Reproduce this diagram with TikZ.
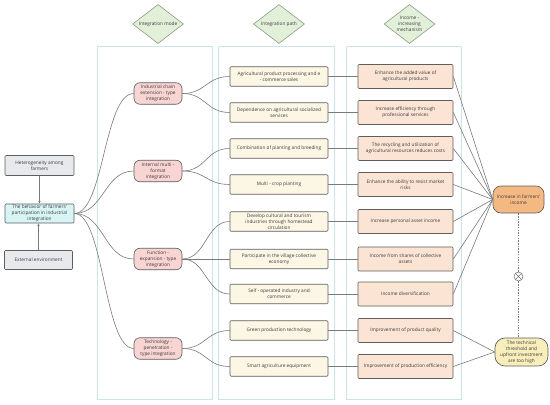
\documentclass[tikz,border=0pt]{standalone}
\usepackage{fontspec}
\setmainfont{Open Sans}
\usetikzlibrary{shapes.geometric,calc,arrows.meta}
\definecolor{txt}{HTML}{3A3A3A}
\definecolor{grayf}{HTML}{E7E9ED}
\definecolor{cyanf}{HTML}{D8F4F4}
\definecolor{pinkf}{HTML}{F8D4D2}
\definecolor{creamf}{HTML}{FCF6E4}
\definecolor{peachf}{HTML}{FBE4D4}
\definecolor{orangef}{HTML}{F4B982}
\definecolor{yellowf}{HTML}{F7EEBC}
\definecolor{panelc}{HTML}{CBE6E6}
\definecolor{bord}{HTML}{5E5E5E}
\definecolor{linec}{HTML}{7A7A7A}
\definecolor{diamf}{HTML}{E2F0D9}
\definecolor{diamd}{HTML}{8C9B84}
\tikzset{
  box/.style={draw=bord, line width=0.65pt, align=center, inner sep=1pt, rounded corners=1pt, text=txt},
  lftbox/.style={box, fill=grayf, minimum width=69pt, minimum height=20pt},
  behbox/.style={box, fill=cyanf, minimum width=69pt, minimum height=19pt},
  modebox/.style={box, fill=pinkf, rounded corners=6pt, minimum width=48pt, minimum height=21.5pt},
  pathbox/.style={box, fill=creamf, minimum width=98pt, minimum height=19.5pt},
  mechbox/.style={box, fill=peachf, minimum width=95pt, minimum height=24pt},
  incbox/.style={box, fill=orangef, rounded corners=8pt, minimum width=51pt, minimum height=27pt},
  techbox/.style={box, fill=yellowf, rounded corners=10pt, minimum width=53pt, minimum height=28pt},
  diam/.style={diamond, aspect=1.31, draw=diamd, fill=diamf, line width=0.6pt, inner sep=0pt,
    minimum width=51pt, minimum height=39pt, align=center, text=txt},
  panel/.style={draw=panelc, line width=0.9pt, fill=white, inner sep=0pt},
  link/.style={draw=linec, line width=0.6pt},
  arr/.style={link, -{Stealth[length=3pt,width=2.4pt]}},
  dashlink/.style={draw=linec, line width=0.6pt, dashed, dash pattern=on 1.5pt off 1.2pt},
  sc/.style={to path={let \p1=(\tikztostart), \p2=(\tikztotarget) in
     .. controls ({0.5*\x1+0.5*\x2},\y1) and ({0.5*\x1+0.5*\x2},\y2) .. (\tikztotarget)}},
  xcirc/.style={circle, draw=linec, line width=0.6pt, fill=white, minimum size=9pt, inner sep=0pt,
    path picture={\draw[linec, line width=0.6pt] (path picture bounding box.north west) -- (path picture bounding box.south east)
      (path picture bounding box.north east) -- (path picture bounding box.south west);}}
}
\begin{document}
\begin{tikzpicture}[x=1pt, y=-1pt, font=\fontsize{4.75}{5.9}\selectfont]
\useasboundingbox (0,0) rectangle (550,405);
% panels
\node[panel, minimum width=115pt, minimum height=353pt] (col1) at (154.5,222.5) {};
\node[panel, minimum width=116pt, minimum height=353pt] (col2) at (276,222.5) {};
\node[panel, minimum width=115pt, minimum height=353pt] (col3) at (403.5,222.5) {};
% diamonds
\node[diam] (d1) at (158,24) {Integration mode};
\node[diam] (d2) at (279,24) {Integration path};
\node[diam] (d3) at (409.5,24) {Income -\\increasing\\mechanism};
% left
\node[lftbox] (het) at (39.5,165.5) {Heterogeneity among\\farmers};
\node[behbox] (beh) at (39.5,213.5) {The behavior of farmers'\\participation in industrial\\integration};
\node[lftbox, minimum width=68pt, minimum height=19pt] (ext) at (38.5,260) {External environment};
% modes
\node[modebox] (p1) at (158,93.5) {Industrial chain\\extension - type\\integration};
\node[modebox] (p2) at (158,171) {Internal multi -\\format\\integration};
\node[modebox] (p3) at (158,259) {Function -\\expansion - type\\integration};
\node[modebox] (p4) at (158,348.5) {Technology -\\penetration -\\type integration};
% paths
\node[pathbox] (a1) at (279,76.5) {Agricultural product processing and e\\- commerce sales};
\node[pathbox] (a2) at (279,112.5) {Dependence on agricultural socialized\\services};
\node[pathbox] (a3) at (279,148.5) {Combination of planting and breeding};
\node[pathbox] (a4) at (279,184.5) {Multi - crop planting};
\node[pathbox] (a5) at (279,221.5) {Develop cultural and tourism\\industries through homestead\\circulation};
\node[pathbox] (a6) at (279,259) {Participate in the village collective\\economy};
\node[pathbox] (a7) at (279,294) {Self - operated industry and\\commerce};
\node[pathbox] (a8) at (279,330.5) {Green production technology};
\node[pathbox] (a9) at (279,366.5) {Smart agriculture equipment};
% mechanisms
\node[mechbox] (m1) at (405.5,76.5) {Enhance the added value of\\agricultural products};
\node[mechbox] (m2) at (405.5,112.5) {Increase efficiency through\\professional services};
\node[mechbox] (m3) at (405.5,148.5) {The recycling and utilization of\\agricultural resources reduces costs};
\node[mechbox] (m4) at (405.5,184.5) {Enhance the ability to resist market\\risks};
\node[mechbox] (m5) at (405.5,221.5) {Increase personal asset income};
\node[mechbox] (m6) at (405.5,259) {Income from shares of collective\\assets};
\node[mechbox] (m7) at (405.5,294) {Income diversification};
\node[mechbox] (m8) at (405.5,330.5) {Improvement of product quality};
\node[mechbox] (m9) at (405.5,366.5) {Improvement of production efficiency};
% right
\node[incbox] (inc) at (518.5,199.5) {Increase in farmers'\\income};
\node[techbox] (tech) at (521.5,352) {The technical\\threshold and\\upfront investment\\are too high};
\node[xcirc] (cx) at (518.5,276.5) {};
% arrows left
\draw[arr] (het.south) -- (beh.north);
\draw[arr] (ext.north) -- (ext.north |- beh.south);
% curves
\foreach \q in {p1,p2,p3,p4} {\draw[link] (beh.east) to[sc] (\q.west);}
\draw[link] (p1.east) to[sc] (a1.west);
\draw[link] (p1.east) to[sc] (a2.west);
\draw[link] (p2.east) to[sc] (a3.west);
\draw[link] (p2.east) to[sc] (a4.west);
\draw[link] (p3.east) to[sc] (a5.west);
\draw[link] (p3.east) to[sc] (a6.west);
\draw[link] (p3.east) to[sc] (a7.west);
\draw[link] (p4.east) to[sc] (a8.west);
\draw[link] (p4.east) to[sc] (a9.west);
% path to mechanism
\foreach \i in {1,...,9} {\draw[link] (a\i.east) -- (m\i.west);}
% mechanism to outcome
\foreach \i in {1,...,7} {\draw[link] (m\i.east) -- (inc.west);}
\draw[link] (m8.east) -- (tech.west);
\draw[link] (m9.east) -- (tech.west);
% dashed
\draw[dashlink] (inc.south) -- (cx.north);
\draw[dashlink] (cx.south) -- (cx.south |- tech.north);
\end{tikzpicture}
\end{document}
